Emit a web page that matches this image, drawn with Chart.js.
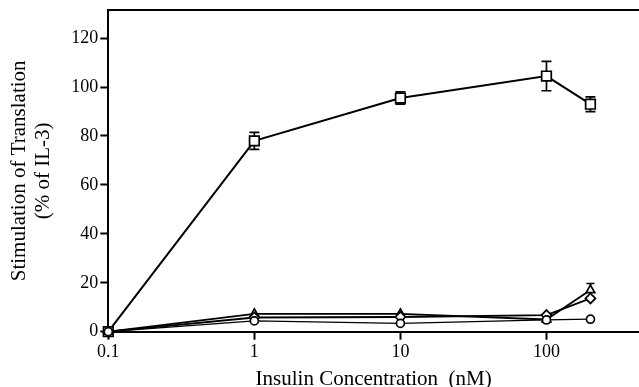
<!DOCTYPE html>
<html>
<head>
<meta charset="utf-8">
<script src="https://cdn.jsdelivr.net/npm/chart.js@4.4.1/dist/chart.umd.min.js"></script>
<style>
  body { margin: 0; background: #fff; }
  canvas { display: block; }
</style>
</head>
<body>
<canvas id="grafico" width="639" height="387"></canvas>
<script>
// Datos
const concentraciones = [0.1, 1, 10, 100, 200];
const cuadrados = [0, 78, 95.5, 104.5, 93];
const errCuadrados = [0, 3.5, 2.5, 6, 3];
const triangulos = [0, 7.3, 7.3, 5, 17];
const errTriangulos = [0, 0, 0, 0, 2.7];
const rombos = [0, 5.8, 6, 6.8, 13.6];
const circulos = [0, 4.4, 3.4, 4.8, 5.1];
const ticksX = [0.1, 1, 10, 100];
const ticksY = [0, 20, 40, 60, 80, 100, 120];

const fuente = "'Liberation Serif', 'Times New Roman', serif";

function puntos(valores) {
  return concentraciones.map((c, i) => ({ x: c, y: valores[i] }));
}

function serie(valores, estilo, radio, grosor) {
  return {
    data: puntos(valores),
    borderColor: '#000',
    borderWidth: grosor,
    pointStyle: estilo,
    pointRadius: radio,
    pointBorderWidth: 1.7,
    pointBackgroundColor: '#fff',
    pointBorderColor: '#000',
    tension: 0,
    clip: false
  };
}

// Barras de error (por debajo de los marcadores)
const barrasError = {
  id: 'barrasError',
  beforeDatasetsDraw(chart) {
    const ctx = chart.ctx;
    const x = chart.scales.x;
    const y = chart.scales.y;
    const grupos = [[cuadrados, errCuadrados, 5], [triangulos, errTriangulos, 4]];
    ctx.save();
    ctx.strokeStyle = '#000';
    ctx.lineWidth = 1.7;
    grupos.forEach(function (g) {
      g[0].forEach(function (v, i) {
        const e = g[1][i];
        if (!e) return;
        const px = x.getPixelForValue(concentraciones[i]);
        const arriba = y.getPixelForValue(v + e);
        const abajo = y.getPixelForValue(v - e);
        ctx.beginPath();
        ctx.moveTo(px, arriba); ctx.lineTo(px, abajo);
        ctx.moveTo(px - g[2], arriba); ctx.lineTo(px + g[2], arriba);
        ctx.moveTo(px - g[2], abajo); ctx.lineTo(px + g[2], abajo);
        ctx.stroke();
      });
    });
    ctx.restore();
  }
};

// Linea superior del marco
const marcoSuperior = {
  id: 'marcoSuperior',
  afterDraw(chart) {
    const a = chart.chartArea;
    const ctx = chart.ctx;
    ctx.save();
    ctx.strokeStyle = '#000';
    ctx.lineWidth = 2;
    ctx.beginPath();
    ctx.moveTo(a.left, a.top);
    ctx.lineTo(chart.width, a.top);
    ctx.stroke();
    ctx.restore();
  }
};

const grafico = new Chart(document.getElementById('grafico'), {
  type: 'line',
  data: {
    datasets: [
      serie(circulos, 'circle', 4, 1.3),
      serie(rombos, 'rectRot', 5, 1.8),
      serie(triangulos, 'triangle', 5, 1.8),
      serie(cuadrados, 'rect', 6.8, 2)
    ]
  },
  options: {
    responsive: false,
    devicePixelRatio: 1,
    animation: false,
    layout: { autoPadding: false, padding: { top: 10, right: 0, left: 0, bottom: 0 } },
    plugins: { legend: { display: false }, tooltip: { enabled: false } },
    scales: {
      x: {
        type: 'logarithmic',
        min: 0.1,
        max: 430,
        afterBuildTicks: function (eje) { eje.ticks = ticksX.map(v => ({ value: v })); },
        afterFit: function (eje) {
          eje.height = 55.3;
          eje.paddingLeft = 0;
          eje.paddingRight = 0;
        },
        border: { display: true, color: '#000', width: 2 },
        grid: { drawOnChartArea: false, drawTicks: true, tickLength: 8, tickColor: '#000', tickWidth: 2 },
        ticks: {
          color: '#000', padding: 2, maxRotation: 0, autoSkip: false,
          font: { family: fuente, size: 18 },
          callback: function (v) { return String(v); }
        },
        title: {
          display: true, text: 'Insulin Concentration  (nM)', color: '#000',
          font: { family: fuente, size: 21, lineHeight: 1 },
          padding: { top: 0, bottom: -2.5 }
        }
      },
      y: {
        min: 0,
        max: 131.5,
        afterBuildTicks: function (eje) { eje.ticks = ticksY.map(v => ({ value: v })); },
        afterFit: function (eje) {
          eje.width = 108.3;
          eje.paddingTop = 0;
          eje.paddingBottom = 0;
        },
        border: { display: true, color: '#000', width: 2 },
        grid: { drawOnChartArea: false, drawTicks: true, tickLength: 8, tickColor: '#000', tickWidth: 2 },
        ticks: {
          color: '#000', padding: 2,
          font: { family: fuente, size: 18 }
        },
        title: {
          display: true, text: ['Stimulation of Translation', '(% of IL-3)'], color: '#000',
          font: { family: fuente, size: 21, lineHeight: 1.15 },
          padding: { top: 7, bottom: 0 }
        }
      }
    }
  },
  plugins: [barrasError, marcoSuperior]
});
</script>
</body>
</html>
